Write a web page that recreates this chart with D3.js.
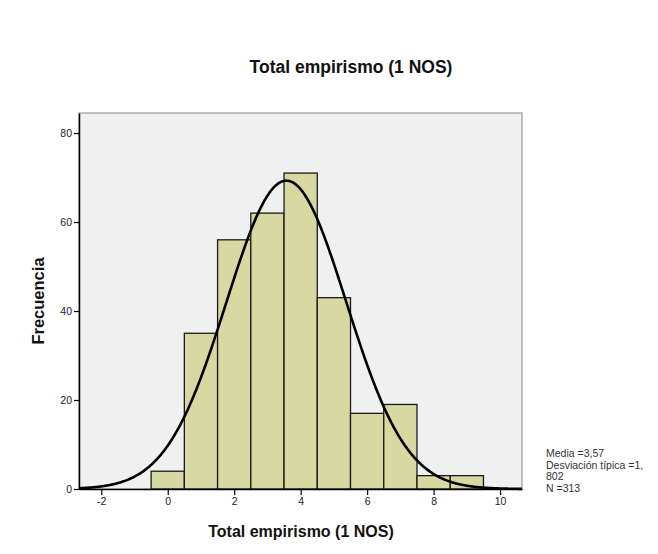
<!DOCTYPE html>
<html>
<head>
<meta charset="utf-8">
<script src="https://cdn.jsdelivr.net/npm/d3@7/dist/d3.min.js"></script>
<style>
  body { margin: 0; background: #fff; }
  svg { display: block; }
  text { font-family: Arial, "Liberation Sans", sans-serif; }
</style>
</head>
<body>
<svg id="chart" width="658" height="554"></svg>
<script>
// Histogram bins (centre value and frequency)
const binCenters = [0, 1, 2, 3, 4, 5, 6, 7, 8, 9];
const frequencies = [4, 35, 56, 62, 71, 43, 17, 19, 3, 3];
const binWidth = 1;

// Summary statistics for the normal curve
const mean = 3.57;
const stdDev = 1.802;
const n = 313;

const xTicks = [-2, 0, 2, 4, 6, 8, 10];
const yTicks = [0, 20, 40, 60, 80];
const statLines = ["Media =3,57", "Desviación típica =1,", "802", "N =313"];

const svg = d3.select("#chart");
const plot = { left: 79, right: 522, top: 113, bottom: 489 };

const x = d3.scaleLinear().domain([-2.67, 10.66]).range([plot.left, plot.right]);
const y = d3.scaleLinear().domain([0, 84.5]).range([plot.bottom, plot.top]);

// plot background
svg.append("rect")
  .attr("x", plot.left).attr("y", plot.top)
  .attr("width", plot.right - plot.left).attr("height", plot.bottom - plot.top)
  .attr("fill", "#f0f0f0")
  .attr("stroke", "#9a9a9a").attr("stroke-width", 1.2);

// bars
svg.append("g").selectAll("rect")
  .data(binCenters.map((c, i) => ({ c, f: frequencies[i] })))
  .join("rect")
  .attr("x", d => x(d.c - binWidth / 2))
  .attr("y", d => y(d.f))
  .attr("width", d => x(d.c + binWidth / 2) - x(d.c - binWidth / 2))
  .attr("height", d => y(0) - y(d.f))
  .attr("fill", "#d8d8a2")
  .attr("stroke", "#1a1a1a").attr("stroke-width", 1.3);

// normal density curve scaled to counts
const pdf = v => n * binWidth / (stdDev * Math.sqrt(2 * Math.PI)) *
  Math.exp(-0.5 * ((v - mean) / stdDev) ** 2);
const curvePts = d3.range(x.domain()[0], x.domain()[1] + 0.001, 0.02).map(v => [v, pdf(v)]);
svg.append("path")
  .datum(curvePts)
  .attr("fill", "none")
  .attr("stroke", "#000").attr("stroke-width", 2.6)
  .attr("d", d3.line().x(d => x(d[0])).y(d => y(d[1])));

// axes (plain hyphen for negative ticks)
const fmt = v => String(v);
const xAxis = svg.append("g")
  .attr("transform", `translate(0,${plot.bottom})`)
  .call(d3.axisBottom(x).tickValues(xTicks).tickFormat(fmt).tickSize(6).tickSizeOuter(0).tickPadding(3));
const yAxis = svg.append("g")
  .attr("transform", `translate(${plot.left},0)`)
  .call(d3.axisLeft(y).tickValues(yTicks).tickFormat(fmt).tickSize(5).tickSizeOuter(0).tickPadding(2));
[xAxis, yAxis].forEach(g => {
  g.select(".domain").attr("stroke", "#000").attr("stroke-width", 1.5);
  g.selectAll(".tick line").attr("stroke", "#000").attr("stroke-width", 1.2);
  g.selectAll(".tick text").attr("font-size", 10.5).attr("fill", "#222")
    .attr("font-family", "Arial, 'Liberation Sans', sans-serif");
});

// titles
svg.append("text")
  .attr("x", 351).attr("y", 73)
  .attr("text-anchor", "middle")
  .attr("font-size", 17.5).attr("font-weight", "bold").attr("fill", "#111")
  .text("Total empirismo (1 NOS)");

svg.append("text")
  .attr("x", 301).attr("y", 537)
  .attr("text-anchor", "middle")
  .attr("font-size", 16).attr("font-weight", "bold").attr("fill", "#111")
  .text("Total empirismo (1 NOS)");

svg.append("text")
  .attr("transform", "translate(44,301) rotate(-90)")
  .attr("text-anchor", "middle")
  .attr("font-size", 16.5).attr("font-weight", "bold").attr("fill", "#111")
  .text("Frecuencia");

// summary statistics
svg.append("g").selectAll("text")
  .data(statLines)
  .join("text")
  .attr("x", 546)
  .attr("y", (d, i) => 457 + i * 11.7)
  .attr("font-size", 10.5).attr("fill", "#333")
  .text(d => d);
</script>
</body>
</html>
